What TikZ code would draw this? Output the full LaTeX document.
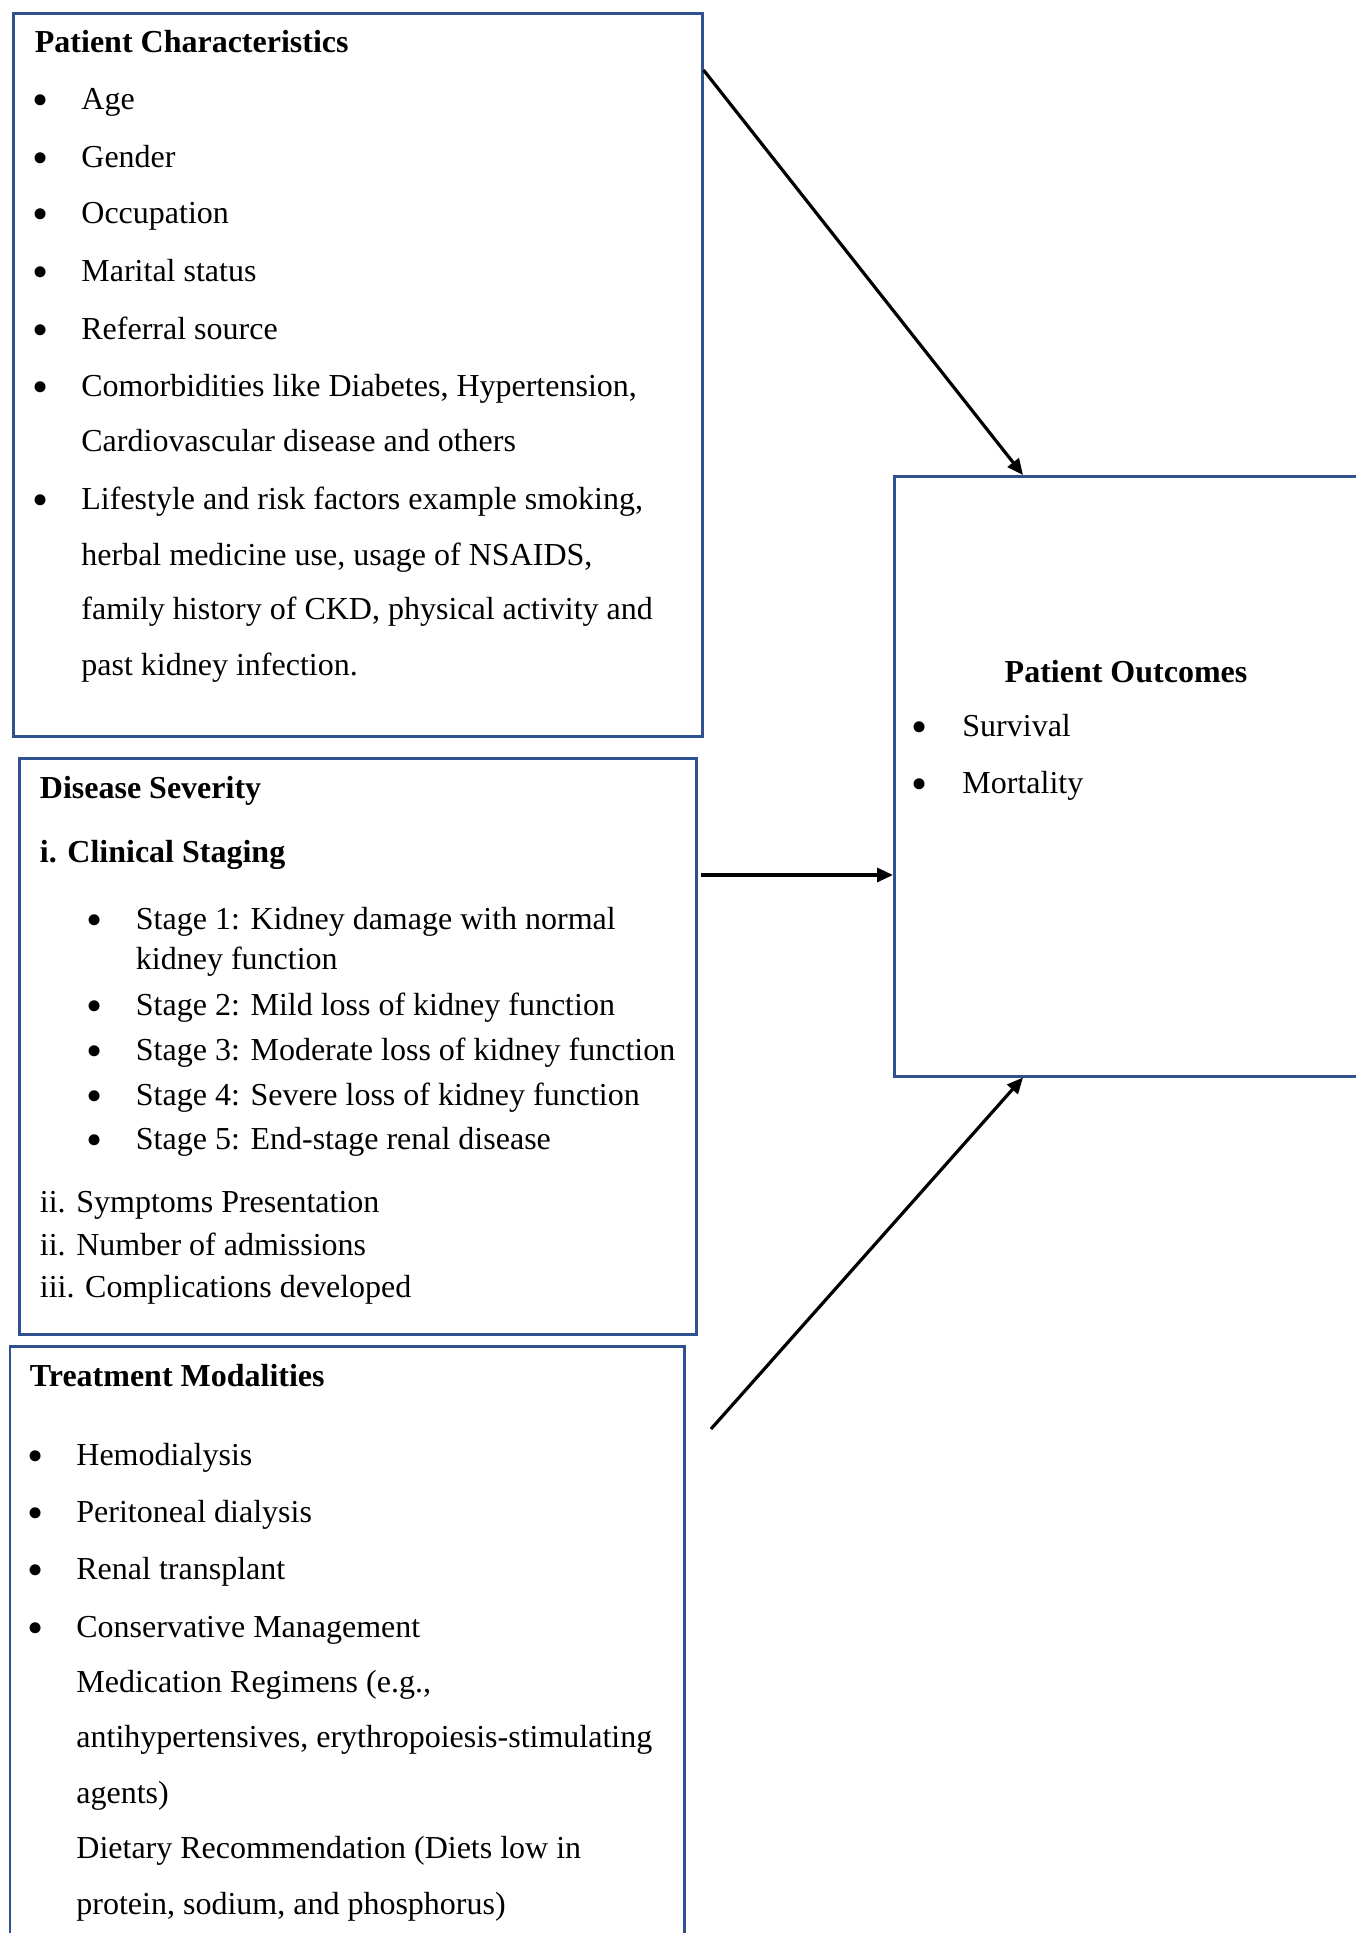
\documentclass[tikz,border=0pt]{standalone}
\usepackage{fontspec}
\setmainfont{Liberation Serif}
\usetikzlibrary{arrows.meta,calc}
\definecolor{frameblue}{RGB}{47,82,143}
\tikzset{
  frame box/.style={draw=frameblue,line width=1.25pt,anchor=north west,
    inner sep=0pt},
  item text/.style={anchor=base west,inner sep=0pt,
    font=\fontsize{16pt}{19pt}\selectfont},
  head text/.style={item text,font=\fontsize{16pt}{19pt}\selectfont\bfseries},
  item bullet/.style={inner sep=0pt,font=\fontsize{23pt}{26pt}\selectfont},
  link arrow/.style={-{Triangle[length=8pt,width=7pt]},line width=1.6pt},
}

\begin{document}
\begin{tikzpicture}[x=0.5pt,y=-0.5pt]
  \useasboundingbox (0,0) rectangle (1355,1933);

  % Patient characteristics
  \node[frame box,minimum width=344.5pt,minimum height=361.5pt] (pc) at (12,12) {};
  \node[head text] (pchead) at (34.5,52) {Patient Characteristics};
  \foreach \y/\t [count=\i] in {109/Age,167/Gender,223/Occupation,
      281/Marital status,339/Referral source,
      396/{Comorbidities like Diabetes, Hypertension,},
      509/{Lifestyle and risk factors example smoking,}} {
    \node[item bullet] (pcb\i) at (41,\y-4) {\textbullet};
    \node[item text] (pci\i) at (81,\y) {\t};
  }
  \foreach \y/\t [count=\i] in {451/Cardiovascular disease and others,
      565/{herbal medicine use, usage of NSAIDS,},
      619/{family history of CKD, physical activity and},
      675/past kidney infection.}
    \node[item text] (pcc\i) at (81,\y) {\t};

  % Disease severity
  \node[frame box,minimum width=338.5pt,minimum height=288pt] (ds) at (18,757) {};
  \node[head text] (dshead) at (39.5,798) {Disease Severity};
  \node[head text] (dssub) at (39.5,862) {i. Clinical Staging};
  \foreach \y/\t [count=\i] in {929/Stage 1: Kidney damage with normal,
      1015/Stage 2: Mild loss of kidney function,
      1060/Stage 3: Moderate loss of kidney function,
      1105/Stage 4: Severe loss of kidney function,
      1149/Stage 5: End-stage renal disease} {
    \node[item bullet] (dsb\i) at (95,\y-4) {\textbullet};
    \node[item text] (dsi\i) at (135.5,\y) {\t};
  }
  \node[item text] (dsc1) at (135.5,969) {kidney function};
  \node[item text] (dsl1) at (39.5,1212) {ii. Symptoms Presentation};
  \node[item text] (dsl2) at (39.5,1255) {ii. Number of admissions};
  \node[item text] (dsl3) at (39.5,1297) {iii. Complications developed};

  % Treatment modalities
  \node[frame box,minimum width=337.25pt,minimum height=300pt] (tm) at (8.5,1345) {};
  \node[head text] (tmhead) at (29.5,1386) {Treatment Modalities};
  \foreach \y/\t [count=\i] in {1465/Hemodialysis,1522/Peritoneal dialysis,
      1579/Renal transplant,1637/Conservative Management} {
    \node[item bullet] (tmb\i) at (36,\y-4) {\textbullet};
    \node[item text] (tmi\i) at (76,\y) {\t};
  }
  \foreach \y/\t [count=\i] in {1692/{Medication Regimens (e.g.,},
      1747/{antihypertensives, erythropoiesis-stimulating},
      1803/agents),1858/Dietary Recommendation (Diets low in,
      1914/{protein, sodium, and phosphorus)}}
    \node[item text] (tmc\i) at (76,\y) {\t};

  % Patient outcomes
  \node[frame box,minimum width=234.5pt,minimum height=300pt] (po) at (893,475) {};
  \node[head text,anchor=base] (pohead) at (1126,682) {Patient Outcomes};
  \foreach \y/\t [count=\i] in {736/Survival,793/Mortality} {
    \node[item bullet] (pob\i) at (920,\y-4) {\textbullet};
    \node[item text] (poi\i) at (962,\y) {\t};
  }

  % Links into the outcomes box
  \coordinate (pcOut) at ([yshift=-29pt]pc.north east);
  \coordinate (dsOut) at (701,875);
  \coordinate (tmOut) at (711,1429);
  \draw[link arrow] (pcOut) -- ([xshift=65pt]po.north west);
  \draw[link arrow] (dsOut) -- (dsOut -| po.west);
  \draw[link arrow] (tmOut) -- ([xshift=65pt]po.south west);
\end{tikzpicture}
\end{document}
